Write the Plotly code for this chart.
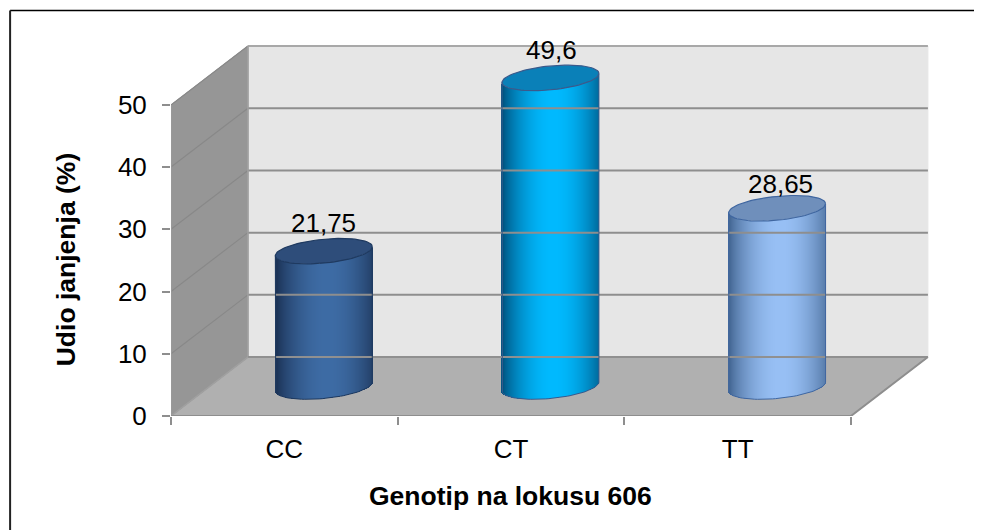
import numpy as np
import plotly.graph_objects as go

categories = ["CC", "CT", "TT"]
values = [21.75, 49.6, 28.65]
value_labels = ["21,75", "49,6", "28,65"]
y_ticks = [0, 10, 20, 30, 40, 50]
x_title = "Genotip na lokusu 606"
y_title = "Udio janjenja (%)"

OFF = 8                 # page margin of the browser
W, H = 974, 522
PX_L, PX_R, PX_B, PX_T = 170.5, 940, 416.5, 30
PX_CAT = 226.8
PX_VAL = 6.23
DX = 77 / PX_CAT
DY = 59 / PX_VAL
BAR_NUDGE = 1 / PX_CAT
XMIN = -0.5
XMAX = XMIN + (PX_R - PX_L) / PX_CAT
YMAX = (PX_B - PX_T) / PX_VAL
FONT = 26
TITLE_FONT = 26.5
LABEL_SHIFT_X = [0, 1, 3]
LABEL_SHIFT_Y = [28, 28, 24]

side_dark = [(28, 52, 88), (0, 85, 130), (70, 105, 150)]
side_light = [(62, 108, 165), (0, 186, 255), (152, 192, 245)]
cap_fill = ["#2e4d7a", "#0a80b8", "#6f8fbb"]
edge = ["#1f3a60", "#3a5a8c", "#3f66a0"]

RX = 48.5 / PX_CAT      # half width
RY = 12 / PX_VAL        # half minor height
TILT = 4.5 / PX_VAL     # right side higher than left

fig = go.Figure()


def poly(pts, fill, line):
    path = "M " + " L ".join(f"{a},{b}" for a, b in pts) + " Z"
    fig.add_shape(type="path", path=path, fillcolor=fill, xref="x", yref="y", layer="below",
                  line=dict(color=line, width=1))


x0, x1 = XMIN, XMIN + 3
top = y_ticks[-1]
poly([(x0 + DX, DY), (x1 + DX, DY), (x1 + DX, top + DY), (x0 + DX, top + DY)], "#e6e6e6", "#e6e6e6")
poly([(x0, 0), (x0 + DX, DY), (x0 + DX, top + DY), (x0, top)], "#969696", "#9a9a9a")
poly([(x0, 0), (x1, 0), (x1 + DX, DY), (x0 + DX, DY)], "#b0b0b0", "#8c8c8c")


def line(xs, ys, color, width):
    fig.add_trace(go.Scatter(x=xs, y=ys, mode="lines", line=dict(color=color, width=width),
                             hoverinfo="skip", showlegend=False))


for t in y_ticks[1:]:
    line([x0, x0 + DX], [t, t + DY], "#888888", 1.2)
    line([x0 + DX, x1 + DX], [t + DY, t + DY], "#8e8e8e" if t < top else "#a8a8a8", 2)
line([x0 + DX, x0 + DX], [DY, top + DY], "#a0a0a0", 1.5)
line([x0, x0], [0, top], "#9a9a9a", 1.5)
line([x0 + DX, x1 + DX], [DY, DY], "#909090", 2)
line([x0, x0 + DX], [0, DY], "#a0a0a0", 1.5)
line([x0, x1, x1 + DX], [0, 0, DY], "#8e8e8e", 2)

# cylinders
STRIPS = 97
for i, v in enumerate(values):
    cx = i + DX / 2 + BAR_NUDGE
    base = DY / 2
    u = (np.arange(STRIPS) + 0.5) / STRIPS * 2 - 1
    xs = cx + u * RX
    arc = RY * np.sqrt(1 - u ** 2)
    slope = TILT * u
    lo = base + slope - arc
    hi = base + v + slope - arc
    shade = np.clip(np.cos((u - 0.08) * np.pi / 2 * 0.97), 0, 1) ** 0.8
    colors = ["rgb(%d,%d,%d)" % tuple(
        int(d + (l - d) * s) for d, l in zip(side_dark[i], side_light[i])) for s in shade]
    fig.add_trace(go.Bar(x=xs, y=hi - lo, base=lo, width=2 * RX / STRIPS * 1.25,
                         marker=dict(color=colors, line=dict(width=0)), showlegend=False, hoverinfo="skip"))
    t = np.linspace(0, 2 * np.pi, 80)
    fig.add_trace(go.Scatter(x=cx + RX * np.cos(t), y=base + v + TILT * np.cos(t) + RY * np.sin(t),
                             mode="lines", fill="toself", fillcolor=cap_fill[i],
                             line=dict(color=edge[i], width=1.2), hoverinfo="skip", showlegend=False))
    tb = np.linspace(np.pi, 2 * np.pi, 50)
    ox = np.concatenate([[cx - RX], cx + RX * np.cos(tb), [cx + RX]])
    oy = np.concatenate([[base + v - TILT], base + TILT * np.cos(tb) + RY * np.sin(tb), [base + v + TILT]])
    line(ox, oy, edge[i], 1)
    fig.add_annotation(x=cx, y=base + v, xshift=LABEL_SHIFT_X[i], yshift=LABEL_SHIFT_Y[i], text=value_labels[i],
                       showarrow=False, font=dict(size=FONT, color="black"), xref="x", yref="y")

# outer frame: top and left only, running off the page edges
PW, PH = PX_R - PX_L, PX_B - PX_T
fig.add_shape(type="line", xref="paper", yref="paper", x0=(9.5 - PX_L) / PW, x1=(990 - PX_L) / PW,
              y0=(PX_B - 10.5) / PH, y1=(PX_B - 10.5) / PH, line=dict(color="black", width=1.5), layer="below")
fig.add_shape(type="line", xref="paper", yref="paper", x0=(9.5 - PX_L) / PW, x1=(9.5 - PX_L) / PW,
              y0=(PX_B - 540) / PH, y1=(PX_B - 10.5) / PH, line=dict(color="#222222", width=2), layer="below")

fig.update_layout(
    width=W, height=H, autosize=False, barmode="overlay", bargap=0,
    margin=dict(l=PX_L - OFF, r=W + OFF - PX_R, t=PX_T - OFF, b=H + OFF - PX_B, pad=0),
    paper_bgcolor="white", plot_bgcolor="rgba(0,0,0,0)", showlegend=False,
    font=dict(family="Liberation Sans, Arial, sans-serif", size=FONT, color="black"),
    xaxis=dict(range=[XMIN, XMAX], tickvals=[0, 1, 2], ticktext=categories, ticks="", showgrid=False,
               zeroline=False, showline=False, tickfont=dict(size=FONT), ticklabelstandoff=15,
               minor=dict(tickvals=[x0, x0 + 1, x0 + 2, x0 + 3], ticks="outside", ticklen=8,
                          tickcolor="#8e8e8e", tickwidth=1.5, showgrid=False)),
    yaxis=dict(range=[0, YMAX], tickvals=y_ticks, ticks="outside", ticklen=8, tickcolor="#8e8e8e", tickwidth=1.5,
               showgrid=False, zeroline=False, showline=False, tickfont=dict(size=FONT), ticklabelstandoff=10),
)
fig.add_annotation(text=x_title, xref="paper", yref="paper", x=(510 - PX_L) / PW, xanchor="center",
                   y=(PX_B - 497) / PH, yanchor="middle", showarrow=False,
                   font=dict(size=TITLE_FONT, color="black", weight="bold"))
fig.add_annotation(text=y_title, xref="paper", yref="paper", x=(65 - PX_L) / PW, xanchor="center",
                   y=(PX_B - 260) / PH, yanchor="middle", showarrow=False, textangle=-90,
                   font=dict(size=TITLE_FONT, color="black", weight="bold"))

fig.write_html("out.html")
